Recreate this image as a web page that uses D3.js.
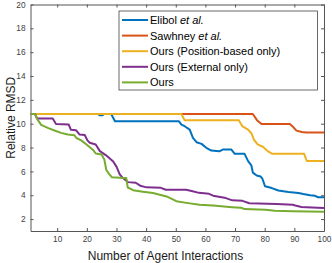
<!DOCTYPE html>
<html>
<head>
<meta charset="utf-8">
<script src="https://cdn.jsdelivr.net/npm/d3@7"></script>
<style>
body{margin:0;background:#fff;}
svg{display:block;font-family:"Liberation Sans",Arial,sans-serif;}
.axis text{fill:#404040;font-size:8.3px;}
.axis path,.axis line{stroke:#555;}
</style>
</head>
<body>
<svg width="332" height="263"></svg>
<script>
// [interaction, relative RMSD] vertices
var elibol = [[1,10.82],[23.8,10.82],[24.3,10.7],[25.3,10.7],[25.8,10.82],[28.2,10.82],[29.5,10.2],[51.1,10.2],[51.9,9.93],[53,9.79],[54.7,9.51],[55.8,8.81],[57,8.45],[58.7,8.31],[60.3,7.98],[62,7.75],[64.7,7.68],[66,7.84],[68.7,7.84],[69.9,7.47],[73.2,7.47],[74.4,6.86],[75.5,6.5],[76,5.9],[77.3,5.65],[78.6,5.57],[79.2,5.4],[80.1,4.75],[82.4,4.6],[84.6,4.4],[88,4.27],[91.4,4.18],[93,4.1],[95.3,4.0],[97,3.95],[98,3.83],[100,3.84]];
var sawhney = [[1,10.82],[76,10.82],[77.4,10.3],[78.9,9.98],[88.5,9.98],[89.5,9.75],[90.7,9.42],[92.5,9.3],[94,9.26],[100,9.26]];
var oursPos = [[1,10.82],[51.9,10.82],[53,10.28],[71.3,10.28],[72.4,9.8],[74.4,9.5],[75.5,9.2],[76.4,8.65],[77.7,8.25],[79.4,8.07],[81,7.7],[82.6,7.47],[93.3,7.47],[94.2,6.87],[100,6.87]];
var oursExt = [[1,10.82],[2.5,10.82],[3.2,10.43],[8.5,10.43],[9.6,9.98],[13.9,9.93],[14.6,9.5],[16.4,9.45],[17.5,9.1],[19.3,9.05],[20.2,8.6],[21,8.4],[23,8.25],[24.4,7.7],[26.5,7.35],[28.9,6.83],[30,6.4],[31.1,5.75],[32.2,5.44],[33.9,5.1],[36.5,5.05],[38,4.8],[40.1,4.66],[45,4.62],[46.6,4.46],[53.5,4.46],[55.7,4.33],[57.8,4.2],[61.2,4.12],[62.6,3.96],[66.9,3.76],[69.1,3.57],[72.5,3.53],[74.8,3.33],[84,3.27],[89.5,3.2],[90.3,3.14],[92.4,3.02],[94,3.0],[100,2.92]];
var ours = [[1,10.82],[2.5,10.82],[3.5,10.3],[4.6,9.9],[6.8,9.65],[9.1,9.43],[11.3,9.23],[13.6,9.1],[15.8,9.04],[16.5,8.8],[18.1,8.6],[19.9,8.25],[22.1,7.8],[23,7.5],[25,7.42],[25.9,7.0],[26.6,6.1],[27.5,5.8],[28.5,5.5],[32.5,5.45],[33.3,5.45],[33.8,4.65],[35.6,4.42],[38.9,4.3],[42.3,4.18],[44.6,4.04],[46.9,3.9],[50.2,3.5],[53.6,3.36],[58,3.2],[62.6,3.13],[69,3.0],[72.1,2.95],[73.2,2.84],[80.3,2.78],[83.4,2.7],[89.3,2.66],[100,2.61]];

var seriesNames = ['Elibol', 'Sawhney', 'Ours (Position-based only)', 'Ours (External only)', 'Ours'];
var seriesColors = ['#0072BD', '#D95319', '#EDB120', '#7E2F8E', '#77AC30'];
var seriesData = [elibol, sawhney, oursPos, oursExt, ours];
var xTicks = [10,20,30,40,50,60,70,80,90,100];
var yTicks = [2,4,6,8,10,12,14,16,18,20];

var svg = d3.select('svg');
var margin = {left:30.5,right:8,top:4.5,bottom:32};
var width = +svg.attr('width'), height = +svg.attr('height');
var innerwidth = width - margin.left - margin.right;
var innerheight = height - margin.top - margin.bottom;

var xscale = d3.scaleLinear().domain([1,100]).range([0,innerwidth]);
var yscale = d3.scaleLinear().domain([1,20]).range([innerheight,0]);

var g = svg.append('g').attr('transform',`translate(${margin.left},${margin.top})`);

// axes, MATLAB style: box with inward ticks on all sides
g.append('g').attr('class','axis')
	.attr('transform',`translate(0,${innerheight})`)
	.call(d3.axisBottom(xscale).tickValues(xTicks).tickSize(-3).tickPadding(5).tickSizeOuter(0));
g.append('g').attr('class','axis')
	.call(d3.axisLeft(yscale).tickValues(yTicks).tickSize(-3).tickPadding(5).tickSizeOuter(0));
g.append('g').attr('class','axis')
	.call(d3.axisTop(xscale).tickValues(xTicks).tickSize(-3).tickSizeOuter(0))
	.selectAll('text').remove();
g.append('g').attr('class','axis')
	.attr('transform',`translate(${innerwidth},0)`)
	.call(d3.axisRight(yscale).tickValues(yTicks).tickSize(-3).tickSizeOuter(0))
	.selectAll('text').remove();

var line = d3.line().x(d => xscale(d[0])).y(d => yscale(d[1]));

g.append('g').selectAll('path').data(seriesData)
	.enter()
	.append('path')
	.attr('d',line)
	.attr('fill','none')
	.attr('stroke',(d,i) => seriesColors[i])
	.attr('stroke-width',2)
	.attr('stroke-linejoin','round');

// legend
var leg = svg.append('g').attr('transform','translate(119,11)');
leg.append('rect').attr('width',198.5).attr('height',79)
	.attr('fill','#fff').attr('stroke','#444').attr('stroke-width',0.8);
var rows = leg.selectAll('g').data(seriesNames).enter().append('g')
	.attr('transform',(d,i) => `translate(0,${9 + i*15.6})`);
rows.append('line').attr('x1',3).attr('x2',29).attr('y1',0).attr('y2',0)
	.attr('stroke',(d,i) => seriesColors[i]).attr('stroke-width',2);
var texts = rows.append('text').attr('x',31).attr('y',4)
	.attr('font-size','11px').attr('fill','#000');
texts.each(function(d,i){
	var t = d3.select(this);
	if(i < 2){
		t.append('tspan').text(d + (i==1 ? '  ' : ' '));
		t.append('tspan').attr('font-style','italic').text('et al.');
	} else {
		t.text(d);
	}
});

svg.append('text').attr('x',165.5).attr('y',260)
	.attr('text-anchor','middle').attr('font-size','12px').attr('fill','#1a1a1a')
	.text('Number of Agent Interactions');
svg.append('text').attr('transform',`translate(14.5,${margin.top + innerheight/2}) rotate(-90)`)
	.attr('text-anchor','middle').attr('font-size','12px').attr('fill','#1a1a1a')
	.text('Relative RMSD');
</script>
</body>
</html>
